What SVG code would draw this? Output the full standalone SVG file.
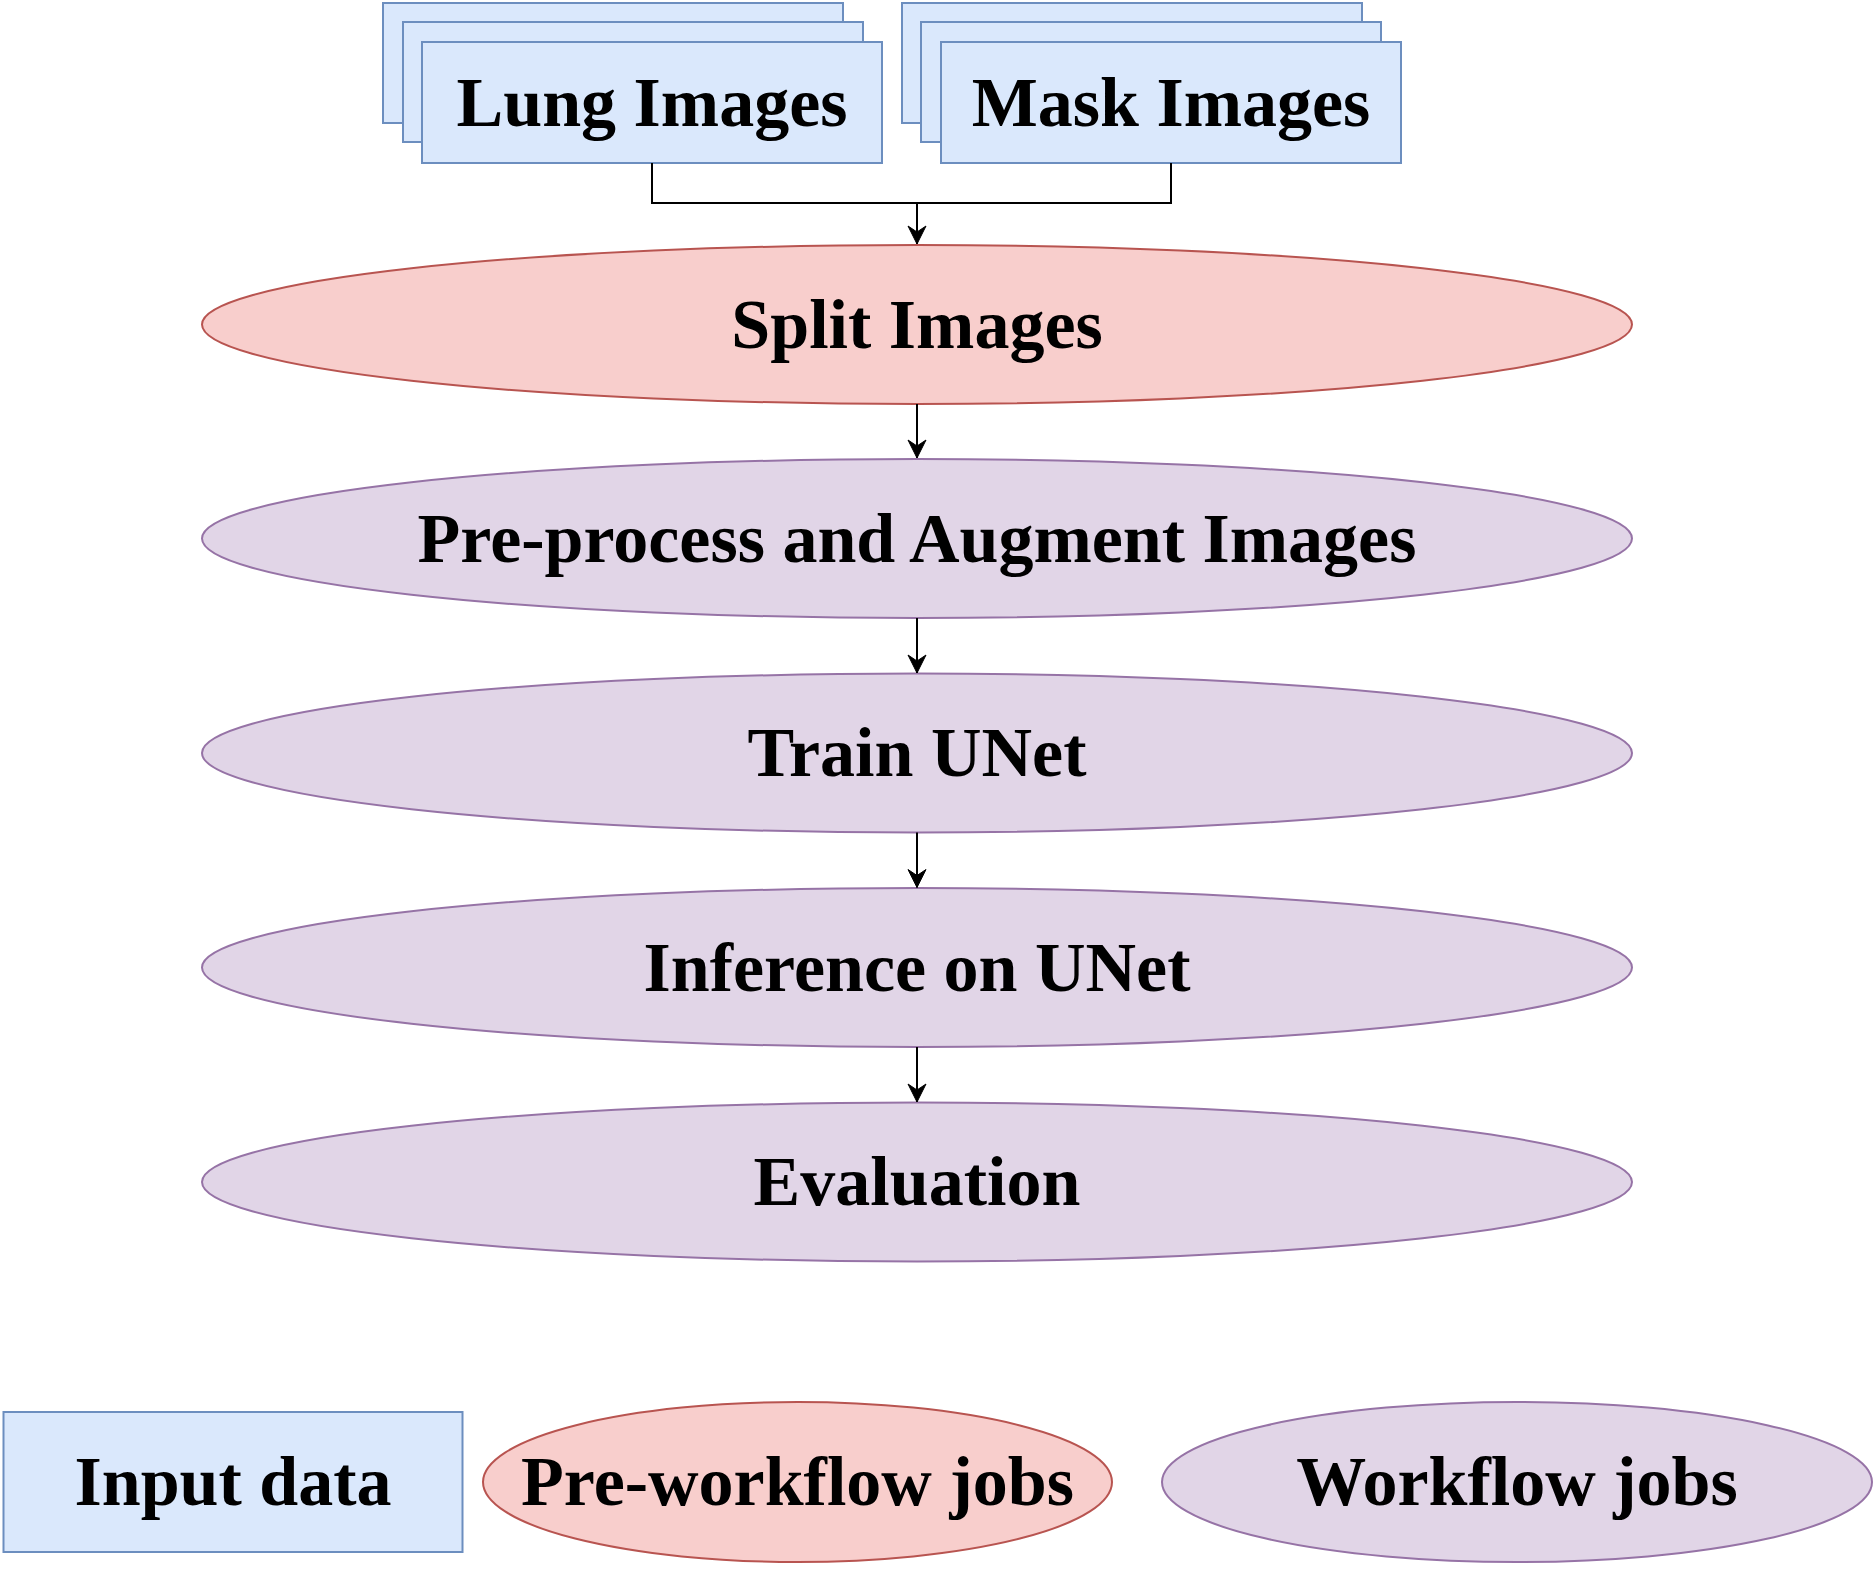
<svg xmlns="http://www.w3.org/2000/svg" width="1875" height="1569" viewBox="0 0 1875 1569">
<style>
.blue{fill:#dae8fc;stroke:#6c8ebf;stroke-width:2}
.red{fill:#f8cecc;stroke:#b85450;stroke-width:2}
.purple{fill:#e1d5e7;stroke:#9673a6;stroke-width:2}
text{font-family:"Liberation Serif","Times New Roman",serif;font-weight:bold;font-size:70px;fill:#000;text-anchor:middle}
.edge{fill:none;stroke:#000;stroke-width:2}
</style>
<defs>
<marker id="arr" markerUnits="userSpaceOnUse" markerWidth="24" markerHeight="22" viewBox="-21 -11 24 22" refX="0" refY="0" orient="auto">
<path d="M0,0 L-18,-9 L-12,0 L-18,9 Z" fill="#000" stroke="#000" stroke-width="1"/>
</marker>
</defs>
<rect width="1875" height="1569" fill="#fff"/>
<g id="lung-images">
<rect class="blue" x="383" y="3" width="460" height="120"/>
<rect class="blue" x="403" y="22" width="460" height="120"/>
<rect class="blue" x="422" y="42" width="460" height="121"/>
<text x="652" y="126">Lung Images</text>
</g>
<g id="mask-images">
<rect class="blue" x="902" y="3" width="460" height="120"/>
<rect class="blue" x="921" y="22" width="460" height="120"/>
<rect class="blue" x="941" y="42" width="460" height="121"/>
<text x="1171" y="126">Mask Images</text>
</g>
<g id="split-images">
<ellipse class="red" cx="917" cy="324.5" rx="715" ry="79.5"/>
<text x="917" y="347.5">Split Images</text>
</g>
<g id="preprocess">
<ellipse class="purple" cx="917" cy="538.5" rx="715" ry="79.5"/>
<text x="917" y="561.5">Pre-process and Augment Images</text>
</g>
<g id="train-unet">
<ellipse class="purple" cx="917" cy="753" rx="715" ry="79.5"/>
<text x="917" y="776">Train UNet</text>
</g>
<g id="inference">
<ellipse class="purple" cx="917" cy="967.5" rx="715" ry="79.5"/>
<text x="917" y="990.5">Inference on UNet</text>
</g>
<g id="evaluation">
<ellipse class="purple" cx="917" cy="1182" rx="715" ry="79.5"/>
<text x="917" y="1205">Evaluation</text>
</g>
<g id="legend-input">
<rect class="blue" x="3.5" y="1412" width="459" height="140"/>
<text x="233" y="1505">Input data</text>
</g>
<g id="legend-preworkflow">
<ellipse class="red" cx="797.5" cy="1482" rx="314.5" ry="80"/>
<text x="797.5" y="1505">Pre-workflow jobs</text>
</g>
<g id="legend-workflow">
<ellipse class="purple" cx="1517" cy="1482" rx="355" ry="80"/>
<text x="1517" y="1505">Workflow jobs</text>
</g>
<g id="connectors">
<polyline class="edge" points="652,163 652,203 917,203 917,244" marker-end="url(#arr)"/>
<polyline class="edge" points="1171,163 1171,203 917,203"/>
<line class="edge" x1="917" y1="404" x2="917" y2="458" marker-end="url(#arr)"/>
<line class="edge" x1="917" y1="618" x2="917" y2="673" marker-end="url(#arr)"/>
<line class="edge" x1="917" y1="832.5" x2="917" y2="887.5" marker-end="url(#arr)"/>
<line class="edge" x1="917" y1="1047" x2="917" y2="1102" marker-end="url(#arr)"/>
</g>
</svg>
